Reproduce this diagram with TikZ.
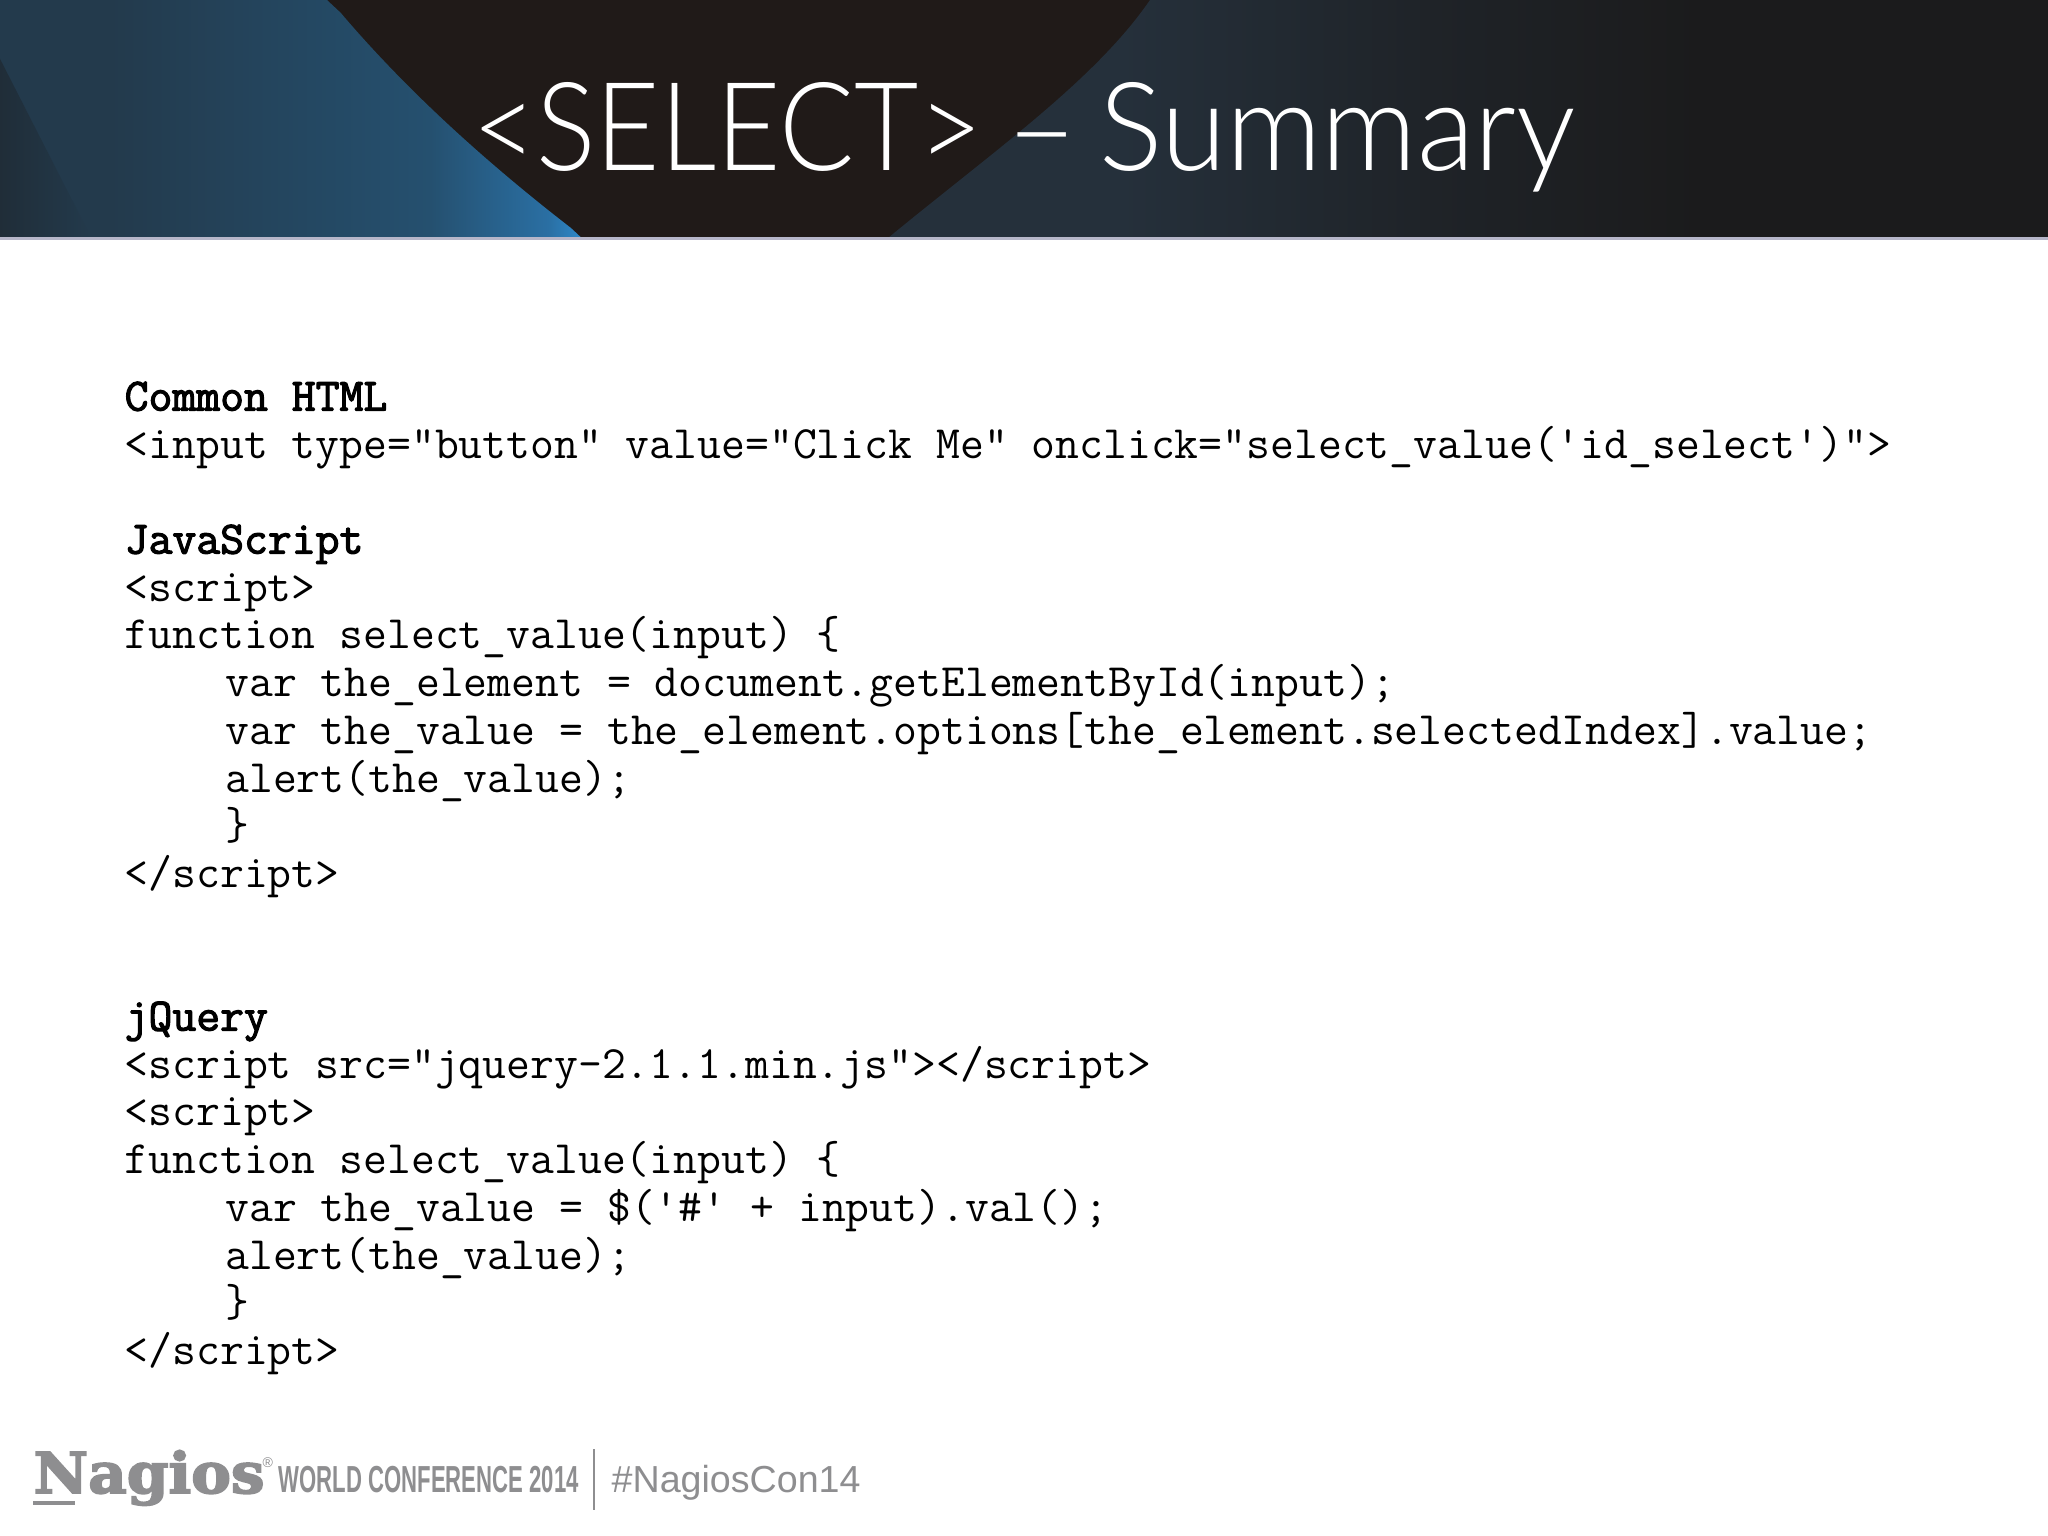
\documentclass[tikz,border=0pt]{standalone}
\usepackage{fontspec}
\usetikzlibrary{calc}
\newfontfamily\titlefont{Lato Light}
\newfontfamily\footfont{Liberation Sans}
\newfontfamily\logofont[FakeBold=3,BoldFeatures={FakeBold=3}]{DejaVu Serif}
\newfontfamily\headfont[FakeBold=2.5]{Latin Modern Mono}
\definecolor{headdark}{HTML}{201A18}
\definecolor{headright}{HTML}{1B1B1C}
\definecolor{wedgeblue}{HTML}{25303B}
\definecolor{footgray}{HTML}{8E8E90}
\definecolor{bandfar}{HTML}{233A4C}
\definecolor{bandmid}{HTML}{25506F}
\definecolor{bandnear}{HTML}{2A6FA3}
\definecolor{bandedge}{HTML}{2E88C8}
\pgfdeclarehorizontalshading{bandshade}{100bp}{color(0bp)=(bandfar); color(47bp)=(bandfar);
  color(66bp)=(bandmid); color(73bp)=(bandnear); color(75bp)=(bandedge); color(100bp)=(bandedge)}
\pgfdeclarehorizontalshading{wedgeshade}{100bp}{color(0bp)=(wedgeblue); color(35bp)=(wedgeblue);
  color(48bp)=(headright!60!wedgeblue); color(60bp)=(headright); color(100bp)=(headright)}
\tikzset{
  codeblock/.style={anchor=north west,inner sep=0pt,align=left,text=black,font=\ttfamily\fontsize{13.18}{13.56}\selectfont},
  footlabel/.style={anchor=base west,inner sep=0pt,text=footgray},
}
\begin{document}
\begin{tikzpicture}[x=0.01cm,y=-0.01cm]
    \useasboundingbox (0,0) rectangle (2048,1536);
    \fill [white] (0,0) rectangle (2048,1536);
    \fill [headdark] (0,0) rectangle (2048,238);
    \begin{scope}
      \clip (1150,0) .. controls (1095,80) and (995,150) .. (888,238) -- (2048,238) -- (2048,0) -- cycle;
      \shade [shading=wedgeshade] (888,0) rectangle (2048,238);
    \end{scope}
    \begin{scope}
      \clip (0,0) -- (330,0) .. controls (395,79) and (479,158) .. (584,238) -- (0,238) -- cycle;
      \shade [shading=bandshade,xslant=-1.07] (-260,0) rectangle (327,238);
      \shade [left color=headright,right color=bandfar,xslant=-0.51] (-130,0) rectangle (-30,238);
    \end{scope}
    \draw [line width=0.7pt,color=blue!15!gray!50] (0,238.5) -- (2048,238.5);

    \node [inner sep=0pt,text=white,anchor=base] (title) at (1024,170)
      {\titlefont\fontsize{35}{35}\selectfont\scalebox{0.9025}[1]{<SELECT>}\hspace{6.7pt}–\hspace{6pt}\scalebox{0.963}[1]{Summary}};

    \node [codeblock] (html) at (124,381) {{\headfont Common HTML}\\
      <input type="button" value="Click Me" onclick="select\_value('id\_select')">};
    \node [codeblock] (js) at (124,524) {{\headfont JavaScript}\\
      <script>\\
      function select\_value(input) \{\\
      \hspace*{28.6pt}var the\_element = document.getElementById(input);\\
      \hspace*{28.6pt}var the\_value = the\_element.options[the\_element.selectedIndex].value;\\
      \hspace*{28.6pt}alert(the\_value);\\
      \hspace*{28.6pt}\}\\
      </script>};
    \node [codeblock] (jq) at (124,1001) {{\headfont jQuery}\\
      <script src="jquery-2.1.1.min.js"></script>\\
      <script>\\
      function select\_value(input) \{\\
      \hspace*{28.6pt}var the\_value = \$('\#' + input).val();\\
      \hspace*{28.6pt}alert(the\_value);\\
      \hspace*{28.6pt}\}\\
      </script>};

    \node [footlabel,font=\logofont\bfseries\fontsize{16}{16}\selectfont] (nagios) at (33,1493) {\scalebox{1.06}[1]{Nagios}};
    \node [footlabel,font=\footfont\fontsize{4}{4}\selectfont] (reg) at (262,1467) {®};
    \node [footlabel,font=\footfont\bfseries\fontsize{10.7}{10.7}\selectfont] (world) at (278,1492) {\scalebox{0.588}[1]{WORLD CONFERENCE 2014}};
    \node [footlabel,font=\footfont\fontsize{10.7}{10.7}\selectfont] (tag) at (611,1492) {\#NagiosCon14};
    \coordinate (ruletop) at (594,1449);
    \coordinate (rulebot) at (594,1510);
    \draw [footgray,line width=0.6pt] (ruletop) -- (rulebot);
    \draw [footgray,line width=1.1pt] (33,1503) -- (75,1503);
  \end{tikzpicture}
\end{document}
